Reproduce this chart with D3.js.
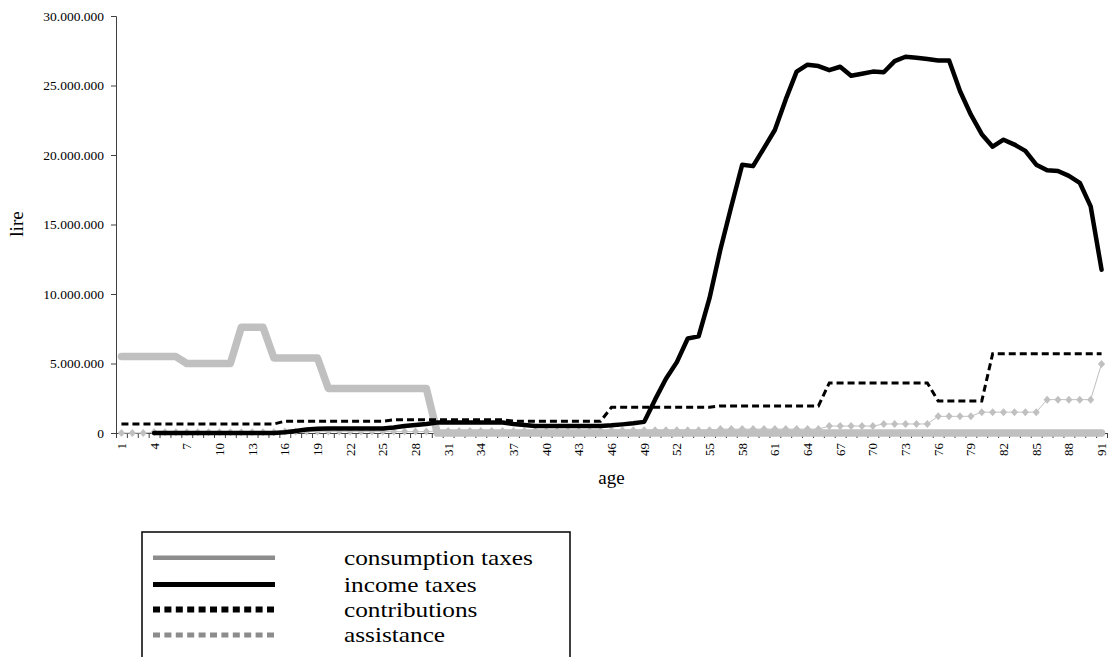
<!DOCTYPE html>
<html>
<head>
<meta charset="utf-8">
<script src="https://cdn.jsdelivr.net/npm/d3@7"></script>
<style>
  html, body { margin: 0; padding: 0; background: #fff; }
  svg { display: block; }
  text { font-family: "Liberation Serif", "Times New Roman", serif; fill: #000; }
</style>
</head>
<body>
<svg id="chart" width="1109" height="657"></svg>
<script>
// ---- data (values in lire) ----
const ages = d3.range(1, 92);
const tickAges = [1,4,7,10,13,16,19,22,25,28,31,34,37,40,43,46,49,52,55,58,61,64,67,70,73,76,79,82,85,88,91];
const yTicks = [0, 5000000, 10000000, 15000000, 20000000, 25000000, 30000000];
const seriesNames = ["consumption taxes", "income taxes", "contributions", "assistance"];

// millions of lire, one per age 1..91 (null = no value)
const consumptionTaxes = [
  5.5,5.5,5.5,5.5,5.5,5.5, 5.0,5.0,5.0,5.0,5.0, 7.6,7.6,7.6, 5.4,5.4,5.4,5.4,5.4,
  3.2,3.2,3.2,3.2,3.2,3.2,3.2,3.2,3.2,3.2,
  0,0,0,0,0,0,0,0,0,0, 0,0,0,0,0,0,0,0,0,0, 0,0,0,0,0,0,0,0,0,0,
  0,0,0,0,0,0,0,0,0,0, 0,0,0,0,0,0,0,0,0,0, 0,0,0,0,0,0,0,0,0,0, 0,0
];
const incomeTaxes = [
  null,null,null, 0,0,0,0,0,0,0,0,0,0,0,0,
  0.05,0.15,0.25,0.3,0.33,0.33,0.33,0.33,0.33,0.33,0.4,0.5,0.58,0.65,
  0.75,0.75,0.75,0.75,0.75,0.75,0.75,0.65,0.58,0.5,0.5,0.5,0.5,0.5,0.5,0.5,
  0.55,0.62,0.7,0.8,2.4,3.9,5.1,6.8,6.95,9.7,13.2,16.3,19.3,19.2,20.5,21.8,
  24.0,26.0,26.5,26.4,26.1,26.35,25.7,25.85,26.0,25.95,26.75,27.07,27.0,26.9,
  26.8,26.8,24.6,22.9,21.5,20.6,21.1,20.75,20.3,19.3,18.9,18.85,18.5,18.0,16.3,11.75
];
const contributions = [
  0.65,0.65,0.65,0.65,0.65,0.65,0.65,0.65,0.65,0.65,0.65,0.65,0.65,0.65,0.65,
  0.85,0.85,0.85,0.85,0.85,0.85,0.85,0.85,0.85,0.85,
  0.95,0.95,0.95,0.95,0.95,0.95,0.95,0.95,0.95,0.95,0.95,
  0.85,0.85,0.85,0.85,0.85,0.85,0.85,0.85,0.85,
  1.85,1.85,1.85,1.85,1.85,1.85,1.85,1.85,1.85,1.85,
  1.95,1.95,1.95,1.95,1.95,1.95,1.95,1.95,1.95,1.95,
  3.6,3.6,3.6,3.6,3.6,3.6,3.6,3.6,3.6,3.6,
  2.3,2.3,2.3,2.3,2.3,
  5.7,5.7,5.7,5.7,5.7,5.7,5.7,5.7,5.7,5.7,5.7
];
const assistance = [
  0,0,0,
  0.05,0.05,0.05,0.05,0.05,0.05,0.05,0.05,0.05,0.05,0.05,0.05,
  0.1,0.1,0.1,0.1,0.1,0.1,0.1,0.1,0.1,0.1,0.1,0.1,0.1,0.1,
  0.15,0.15,0.15,0.15,0.15,0.15,0.15,0.15,0.15,0.15,0.15,0.15,0.15,0.15,0.15,0.15,
  0.2,0.2,0.2,0.2,0.2,0.2,0.2,0.2,0.2,0.2,
  0.28,0.28,0.28,0.28,0.28,0.28,0.28,0.28,0.28,0.28,
  0.5,0.5,0.5,0.5,0.5,
  0.65,0.65,0.65,0.65,0.65,
  1.2,1.2,1.2,1.2,
  1.5,1.5,1.5,1.5,1.5,1.5,
  2.4,2.4,2.4,2.4,2.4,
  4.97
];

// ---- layout ----
const FONT = '"Liberation Serif", "Times New Roman", serif';
const svg = d3.select("#chart");
const plotL = 116, plotR = 1107, plotT = 16, plotB = 433;

const x = d3.scaleBand().domain(ages).range([plotL, plotR]).paddingInner(0).paddingOuter(0);
const xc = d => x(d) + x.bandwidth() / 2;
const xLin = d3.scaleLinear().domain([0.5, 91.5]).range([plotL, plotR]);
const y = d3.scaleLinear().domain([0, 30000000]).range([plotB, plotT]);

const itFmt = d3.formatLocale({decimal: ",", thousands: ".", grouping: [3], currency: ["", ""]}).format(",.0f");

function toPts(arr) {
  return ages.map((a, i) => ({age: a, v: arr[i] == null ? null : arr[i] * 1e6}));
}
const line = d3.line().defined(d => d.v != null).x(d => xc(d.age)).y(d => y(d.v));

// ---- axes ----
const yAxis = d3.axisLeft(y).tickValues(yTicks).tickFormat(itFmt).tickSize(5).tickPadding(7);
const gy = svg.append("g").attr("transform", `translate(${plotL},0)`).call(yAxis);
gy.attr("font-family", null).attr("font-size", null);
gy.select(".domain").attr("stroke", "#404040");
gy.selectAll(".tick line").attr("stroke", "#404040");
gy.selectAll(".tick text").style("font-family", FONT).style("font-size", "13.5px").attr("fill", "#000");

// boundary ticks of x axis
const gxTicks = svg.append("g").attr("transform", `translate(0,${plotB})`)
  .call(d3.axisBottom(xLin).tickValues(d3.range(0.5, 92, 1)).tickFormat("").tickSize(5).tickSizeOuter(0));
gxTicks.select(".domain").attr("stroke", "#404040");
gxTicks.selectAll(".tick line").attr("stroke", "#404040");

// x labels
const gxLab = svg.append("g");
gxLab.selectAll("text").data(tickAges).join("text")
  .attr("transform", d => `translate(${xc(d)},${plotB + 10}) rotate(-90)`)
  .attr("text-anchor", "end")
  .attr("dy", "0.35em")
  .style("font-family", FONT)
  .style("font-size", "13px")
  .text(d => d);

// axis titles
svg.append("text").attr("transform", `translate(23,224) rotate(-90)`)
  .attr("text-anchor", "middle").style("font-family", FONT).style("font-size", "19px").text("lire");
svg.append("text").attr("x", (plotL + plotR) / 2).attr("y", 484)
  .attr("text-anchor", "middle").style("font-family", FONT).style("font-size", "19px").text("age");

// ---- series ----
svg.append("path").datum(toPts(consumptionTaxes)).attr("d", line)
  .attr("fill", "none").attr("stroke", "#c0c0c0").attr("stroke-width", 7.5).attr("stroke-linejoin", "round").attr("stroke-linecap", "round");

const asPts = toPts(assistance);
svg.append("path").datum(asPts).attr("d", line)
  .attr("fill", "none").attr("stroke", "#c0c0c0").attr("stroke-width", 1);
svg.append("g").selectAll("path").data(asPts).join("path")
  .attr("transform", d => `translate(${xc(d.age)},${y(d.v)})`)
  .attr("d", "M0,-4L3.6,0L0,4L-3.6,0Z").attr("fill", "#c0c0c0");

svg.append("path").datum(toPts(incomeTaxes)).attr("d", line)
  .attr("fill", "none").attr("stroke", "#000").attr("stroke-width", 4.5).attr("stroke-linejoin", "round").attr("stroke-linecap", "round");

svg.append("path").datum(toPts(contributions)).attr("d", line)
  .attr("fill", "none").attr("stroke", "#000").attr("stroke-width", 3).attr("stroke-dasharray", "7,4");

// ---- legend ----
const lg = svg.append("g");
lg.append("rect").attr("x", 142).attr("y", 532).attr("width", 428).attr("height", 200)
  .attr("fill", "#fff").attr("stroke", "#000").attr("stroke-width", 1.5);
const legendStyles = [
  {stroke: "#8c8c8c", w: 4.5, dash: null},
  {stroke: "#000", w: 5, dash: null},
  {stroke: "#000", w: 6, dash: "7,4.4"},
  {stroke: "#8c8c8c", w: 5, dash: "7,4.4"}
];
const legendY = [557.7, 584.5, 609.5, 635];
seriesNames.forEach((name, i) => {
  const st = legendStyles[i];
  const ln = lg.append("line").attr("x1", 153).attr("x2", 275).attr("y1", legendY[i]).attr("y2", legendY[i])
    .attr("stroke", st.stroke).attr("stroke-width", st.w);
  if (st.dash) ln.attr("stroke-dasharray", st.dash);
  lg.append("text").attr("transform", `translate(344,${legendY[i]}) scale(1.15,1)`).attr("dy", "0.32em")
    .style("font-family", FONT).style("font-size", "22px").text(name);
});
</script>
</body>
</html>
